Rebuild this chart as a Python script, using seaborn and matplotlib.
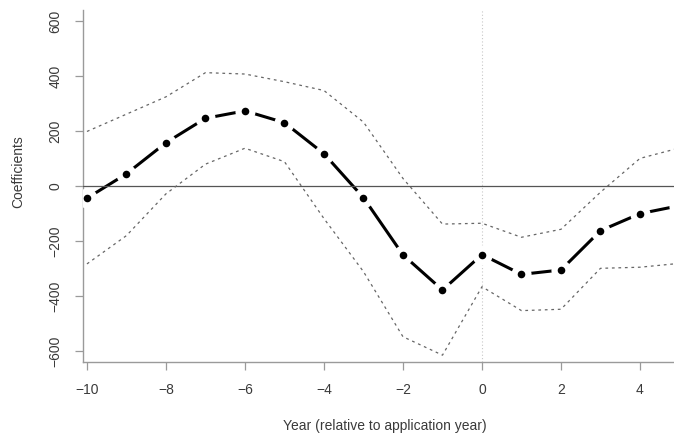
import matplotlib
matplotlib.use("Agg")
import matplotlib.pyplot as plt
import numpy as np
import pandas as pd
import seaborn as sns

# Event-study coefficients with confidence bounds
years = [-10, -9, -8, -7, -6, -5, -4, -3, -2, -1, 0, 1, 2, 3, 4, 5]
coef = [-44, 45, 158, 247, 274, 231, 118, -42, -250, -378, -249, -321, -305, -162, -100, -71]
upper = [199, 262, 325, 413, 408, 380, 348, 233, 28, -138, -135, -186, -157, -22, 101, 139]
lower = [-283, -180, -28, 80, 138, 89, -118, -311, -548, -615, -366, -453, -448, -299, -295, -281]

x_ticks = [-10, -8, -6, -4, -2, 0, 2, 4]
y_ticks = [-600, -400, -200, 0, 200, 400, 600]

df = pd.DataFrame({"year": years, "coef": coef, "upper": upper, "lower": lower})

sns.set_style("ticks")
plt.rcParams["font.family"] = ["Liberation Sans", "DejaVu Sans"]

W, H = 674, 441
fig = plt.figure(figsize=(W / 100, H / 100), dpi=100)
ax = fig.add_axes([83 / W, 1 - 362.3 / H, 1 - 83 / W, (362.3 - 10) / H])

text_col = "#3a3a3a"
axis_col = "#9a9a9a"

# reference lines
ax.axhline(0, color="#555555", lw=0.9, zorder=4)
ax.axvline(0, color="#c8c8c8", lw=0.8, ls=(0, (1, 2)), zorder=1)

# main coefficient line, broken around each point
sns.lineplot(data=df, x="year", y="coef", color="black", lw=2.2, ax=ax,
             zorder=2, estimator=None)
ax.plot(df["year"], df["coef"], ls="none", marker="o", ms=14.5,
        mfc="white", mec="white", mew=0, zorder=3)

# confidence bounds
for col in ["upper", "lower"]:
    sns.lineplot(data=df, x="year", y=col, color="#666666", lw=0.9,
                 linestyle=(0, (2.2, 3.0)), ax=ax, zorder=4, estimator=None)

sns.scatterplot(data=df, x="year", y="coef", color="black", s=30,
                linewidth=0, ax=ax, zorder=5)

ax.set_xlim(-10.10, 4.861)
ax.set_ylim(-641, 641)
ax.set_xticks(x_ticks)
ax.set_yticks(y_ticks)
ax.set_xticklabels([str(v).replace("-", "\u2212") for v in x_ticks])
ax.set_yticklabels([str(v).replace("-", "\u2212") for v in y_ticks])

for side in ["top", "right"]:
    ax.spines[side].set_visible(False)
for side in ["left", "bottom"]:
    ax.spines[side].set_color(axis_col)
    ax.spines[side].set_linewidth(1.0)

ax.tick_params(axis="both", direction="out", length=5.8, width=0.9,
               color=axis_col, labelcolor=text_col, labelsize=10)
ax.tick_params(axis="x", pad=9)
ax.tick_params(axis="y", pad=9, labelrotation=90)
for lbl in ax.get_yticklabels():
    lbl.set_va("center")
    lbl.set_ha("right")

ax.set_xlabel("")
ax.set_ylabel("")
fig.text(385 / W, 1 - 426 / H, "Year (relative to application year)",
         ha="center", va="center", fontsize=10, color=text_col)
fig.text(18.5 / W, 1 - 172 / H, "Coefficients", rotation=90,
         ha="center", va="center", fontsize=10, color=text_col)

fig.savefig("out.png", dpi=100)
